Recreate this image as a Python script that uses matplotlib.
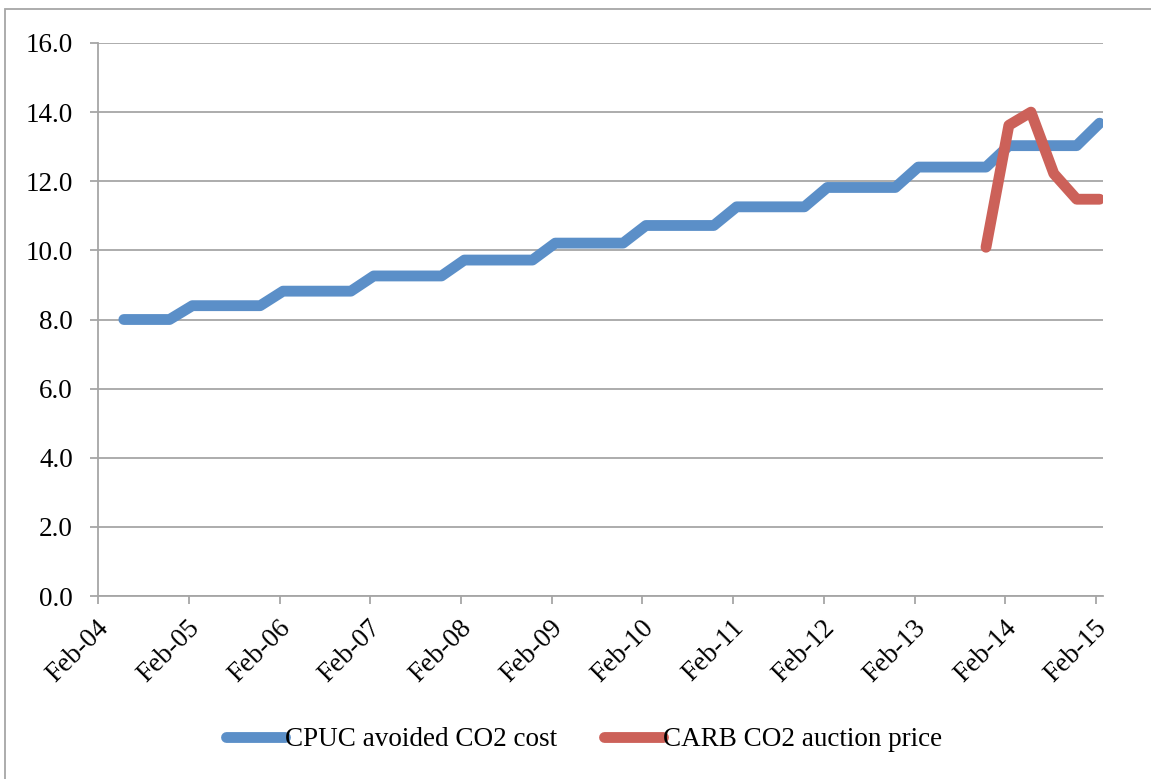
import pandas as pd
import matplotlib
matplotlib.use("Agg")
import matplotlib.pyplot as plt
import matplotlib.dates as mdates
import matplotlib.transforms as mtransforms
from matplotlib.patches import Rectangle

# CPUC avoided CO2 cost: one level per year, held for each quarter (Feb, May, Aug, Nov)
CPUC_YEARS = [2004, 2005, 2006, 2007, 2008, 2009, 2010, 2011, 2012, 2013, 2014, 2015]
CPUC_LEVELS = [8.00, 8.40, 8.82, 9.26, 9.72, 10.21, 10.72, 11.26, 11.82, 12.41, 13.03, 13.68]
CPUC_FIRST = "2004-05-01"
CPUC_LAST = "2015-02-01"

# CARB CO2 auction price
CARB_DATES = ["2013-11-15", "2014-02-15", "2014-05-15", "2014-08-15", "2014-11-15", "2015-02-15"]
CARB_PRICES = [10.09, 13.62, 14.00, 12.22, 11.48, 11.48]

X_MIN = "2004-02-01"
X_MAX = "2015-03-01"
Y_TICKS = [0, 2, 4, 6, 8, 10, 12, 14, 16]

BLUE = "#5B8FC8"
RED = "#CC6159"
GRID = "#A6A6A6"
FONT = "Liberation Serif"


def cpuc_series():
    # quarterly points, mid-month
    dates = pd.date_range(CPUC_FIRST, CPUC_LAST, freq="3MS") + pd.Timedelta(days=14)
    level = dict(zip(CPUC_YEARS, CPUC_LEVELS))
    values = [level[d.year] for d in dates]
    return dates, values


def plot_chart():
    plt.rcParams["font.family"] = [FONT, "DejaVu Serif"]
    fig = plt.figure(figsize=(11.51, 7.79), dpi=100)
    W, H = 1151, 779
    ax = fig.add_axes([98 / W, (H - 596) / H, (1103 - 98) / W, (596 - 43) / H])

    # outer chart border
    fig.patches.append(Rectangle((4.5 / W, -0.1), 1.2, 1 - 9 / H + 0.1,
                                 transform=fig.transFigure, fill=False,
                                 edgecolor=GRID, linewidth=1.3))

    d, v = cpuc_series()
    ax.plot(d, v, color=BLUE, linewidth=7.8, solid_capstyle="round",
            solid_joinstyle="round", label="CPUC avoided CO2 cost")
    ax.plot(pd.to_datetime(CARB_DATES), CARB_PRICES, color=RED, linewidth=7.8,
            solid_capstyle="round", solid_joinstyle="round",
            label="CARB CO2 auction price")

    ax.set_xlim(pd.Timestamp(X_MIN), pd.Timestamp(X_MAX))
    ax.set_ylim(0, 16)
    ax.set_yticks(Y_TICKS)
    ax.set_yticklabels(["%.1f" % t for t in Y_TICKS])
    ax.xaxis.set_major_locator(mdates.MonthLocator(bymonth=2, bymonthday=1))
    ax.xaxis.set_major_formatter(mdates.DateFormatter("%b-%y"))

    ax.grid(axis="y", color=GRID, linewidth=1.3)
    ax.set_axisbelow(True)
    for s in ["top", "right"]:
        ax.spines[s].set_visible(False)
    for s in ["left", "bottom"]:
        ax.spines[s].set_color(GRID)
        ax.spines[s].set_linewidth(1.3)

    ax.tick_params(axis="y", direction="out", length=6, width=1.3, color=GRID,
                   labelsize=19.5, pad=12)
    ax.tick_params(axis="x", direction="out", length=6, width=1.3, color=GRID,
                   labelsize=19.5, pad=14)
    offset = mtransforms.ScaledTranslation(7 / 100, 0, fig.dpi_scale_trans)
    for lab in ax.get_xticklabels():
        lab.set_rotation(45)
        lab.set_ha("right")
        lab.set_va("center")
        lab.set_rotation_mode("anchor")
        lab.set_transform(lab.get_transform() + offset)

    fig.legend(loc="center", bbox_to_anchor=(584 / W, 1 - 740 / H), ncol=2,
               frameon=False, fontsize=19.5, handlelength=2.2, handletextpad=0.0,
               columnspacing=1.7)

    fig.savefig("out.png", dpi=100)


if __name__ == "__main__":
    plot_chart()
